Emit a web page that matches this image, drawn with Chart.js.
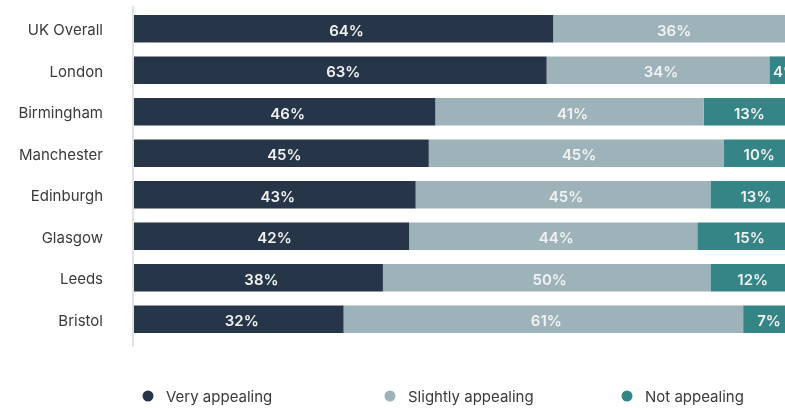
<!DOCTYPE html>
<html>
<head>
<meta charset="utf-8">
<script src="https://cdn.jsdelivr.net/npm/chart.js@4/dist/chart.umd.min.js"></script>
<style>
  html, body { margin: 0; padding: 0; background: #fff; overflow: hidden; }
  #wrap { width: 785px; height: 408px; overflow: hidden; position: relative; }
  #cv { display: block; }
</style>
</head>
<body>
<div id="wrap"><canvas id="cv" width="789" height="408" style="width:789px;height:408px"></canvas></div>
<script>
const categories = ["UK Overall", "London", "Birmingham", "Manchester", "Edinburgh", "Glasgow", "Leeds", "Bristol"];
const veryAppealing = [64, 63, 46, 45, 43, 42, 38, 32];
const slightlyAppealing = [36, 34, 41, 45, 45, 44, 50, 61];
const notAppealing = [0, 4, 13, 10, 13, 15, 12, 7];
const seriesNames = ["Very appealing", "Slightly appealing", "Not appealing"];
const seriesColors = ["#273548", "#9db3b9", "#358587"];

const FONT = "Inter, 'Noto Sans', sans-serif";

const segmentLabels = {
  id: 'segmentLabels',
  afterDatasetsDraw(chart) {
    const ctx = chart.ctx;
    ctx.save();
    ctx.font = "600 15px " + FONT;
    ctx.fillStyle = "#f2f2f2";
    ctx.textAlign = "center";
    ctx.textBaseline = "middle";
    chart.data.datasets.forEach((ds, di) => {
      const meta = chart.getDatasetMeta(di);
      meta.data.forEach((bar, i) => {
        const v = ds.data[i];
        if (!v) return;
        const left = Math.min(bar.base, bar.x);
        const right = Math.max(bar.base, bar.x);
        ctx.fillText(v + "%", (left + right) / 2 + 3, bar.y + 2.5);
      });
    });
    ctx.restore();
  }
};

const axisLine = {
  id: 'axisLine',
  beforeDatasetsDraw(chart) {
    const ctx = chart.ctx;
    const x = chart.chartArea.left - 1;
    ctx.save();
    ctx.strokeStyle = "#e2e2e2";
    ctx.lineWidth = 2;
    ctx.beginPath();
    ctx.moveTo(x, chart.chartArea.top - 2);
    ctx.lineTo(x, chart.chartArea.bottom + 7);
    ctx.stroke();
    ctx.restore();
  }
};

const customLegend = {
  id: 'customLegend',
  afterDraw(chart) {
    const ctx = chart.ctx;
    const centers = [148, 390, 627];
    const y = 396;
    ctx.save();
    ctx.font = "400 15px " + FONT;
    ctx.textBaseline = "middle";
    ctx.textAlign = "left";
    chart.data.datasets.forEach((ds, i) => {
      ctx.fillStyle = ds.backgroundColor;
      ctx.beginPath();
      ctx.arc(centers[i], y, 5.5, 0, Math.PI * 2);
      ctx.fill();
      ctx.fillStyle = "#3a3a3a";
      ctx.fillText(ds.label, centers[i] + 18, y + 1);
    });
    ctx.restore();
  }
};

new Chart(document.getElementById('cv'), {
  type: 'bar',
  data: {
    labels: categories,
    datasets: [
      { label: seriesNames[0], data: veryAppealing, backgroundColor: seriesColors[0] },
      { label: seriesNames[1], data: slightlyAppealing, backgroundColor: seriesColors[1] },
      { label: seriesNames[2], data: notAppealing, backgroundColor: seriesColors[2] }
    ]
  },
  options: {
    indexAxis: 'y',
    responsive: false,
    animation: false,
    devicePixelRatio: 1,
    layout: { padding: { top: 8, bottom: 68, left: 0, right: 0 } },
    datasets: { bar: { categoryPercentage: 1, barPercentage: 0.667, borderWidth: 0 } },
    scales: {
      x: { stacked: true, min: 0, max: 100, display: false },
      y: {
        stacked: true,
        grid: { display: false, drawTicks: false },
        border: { display: false },
        ticks: { padding: 31, labelOffset: 2, color: "#3a3a3a", font: { family: FONT, size: 15, weight: 400 } },
        afterFit(scale) { scale.width = 134; scale.paddingTop = 0; scale.paddingBottom = 0; }
      }
    },
    plugins: { legend: { display: false }, tooltip: { enabled: false } }
  },
  plugins: [axisLine, segmentLabels, customLegend]
});
</script>
</body>
</html>
